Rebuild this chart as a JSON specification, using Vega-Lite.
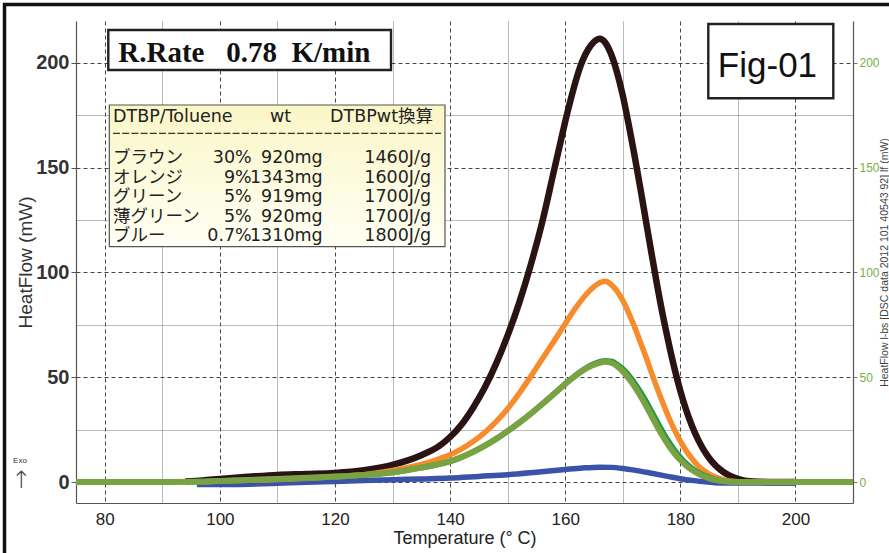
{
  "$schema": "https://vega.github.io/schema/vega-lite/v6.json",
  "width": 777,
  "height": 482,
  "autosize": {"type": "none"},
  "padding": {"left": 76, "top": 21, "right": 36, "bottom": 50},
  "background": "white",
  "config": {"view": {"stroke": null}, "font": "Liberation Sans"},
  "datasets": {
    "curves": [
      {"s":"bl","x":96,"y":-1.2},{"s":"bl","x":100,"y":-1.2},{"s":"bl","x":105,"y":-1.0},{"s":"bl","x":110,"y":-0.6},{"s":"bl","x":115,"y":-0.1},{"s":"bl","x":120,"y":0.3},{"s":"bl","x":125,"y":0.7},{"s":"bl","x":130,"y":1.1},{"s":"bl","x":135,"y":1.5},{"s":"bl","x":140,"y":1.9},{"s":"bl","x":145,"y":2.7},{"s":"bl","x":150,"y":3.5},{"s":"bl","x":155,"y":4.7},{"s":"bl","x":160,"y":6.0},{"s":"bl","x":163,"y":6.7},{"s":"bl","x":166,"y":7.1},{"s":"bl","x":168,"y":7.0},{"s":"bl","x":170,"y":6.5},{"s":"bl","x":172,"y":5.7},{"s":"bl","x":175,"y":4.2},{"s":"bl","x":178,"y":2.6},{"s":"bl","x":180,"y":1.6},{"s":"bl","x":182,"y":0.8},{"s":"bl","x":184,"y":0.2},{"s":"bl","x":186,"y":-0.3},{"s":"bl","x":188,"y":-0.5},{"s":"bl","x":200,"y":-0.5},
      {"s":"br","x":94,"y":0.3},{"s":"br","x":97,"y":0.8},{"s":"br","x":100,"y":1.5},{"s":"br","x":105,"y":2.5},{"s":"br","x":110,"y":3.4},{"s":"br","x":115,"y":3.8},{"s":"br","x":120,"y":4.3},{"s":"br","x":125,"y":5.6},{"s":"br","x":130,"y":8.2},{"s":"br","x":135,"y":12.8},{"s":"br","x":138,"y":17},{"s":"br","x":140,"y":21.5},{"s":"br","x":142,"y":27.5},{"s":"br","x":144,"y":35.5},{"s":"br","x":146,"y":45},{"s":"br","x":148,"y":56.5},{"s":"br","x":150,"y":70},{"s":"br","x":152,"y":85.5},{"s":"br","x":154,"y":103.5},{"s":"br","x":156,"y":124},{"s":"br","x":158,"y":148},{"s":"br","x":159,"y":160},{"s":"br","x":160,"y":172},{"s":"br","x":161,"y":183},{"s":"br","x":162,"y":193},{"s":"br","x":163,"y":201},{"s":"br","x":164,"y":206.5},{"s":"br","x":165,"y":210},{"s":"br","x":166,"y":211.5},{"s":"br","x":167,"y":209.5},{"s":"br","x":168,"y":204},{"s":"br","x":169,"y":195.5},{"s":"br","x":170,"y":184.5},{"s":"br","x":171,"y":171},{"s":"br","x":172,"y":156.5},{"s":"br","x":173,"y":141},{"s":"br","x":174,"y":125},{"s":"br","x":175,"y":109},{"s":"br","x":176,"y":93.5},{"s":"br","x":177,"y":79},{"s":"br","x":178,"y":66},{"s":"br","x":179,"y":54},{"s":"br","x":180,"y":43.5},{"s":"br","x":181,"y":34.5},{"s":"br","x":182,"y":27},{"s":"br","x":183,"y":20.7},{"s":"br","x":184,"y":15.6},{"s":"br","x":185,"y":11.5},{"s":"br","x":186,"y":8.3},{"s":"br","x":187,"y":5.8},{"s":"br","x":188,"y":3.9},{"s":"br","x":189,"y":2.5},{"s":"br","x":190,"y":1.5},{"s":"br","x":191,"y":0.8},{"s":"br","x":192,"y":0.4},{"s":"br","x":194,"y":0.1},{"s":"br","x":196,"y":0},{"s":"br","x":200,"y":0},
      {"s":"or","x":96,"y":0},{"s":"or","x":100,"y":0.5},{"s":"or","x":105,"y":0.8},{"s":"or","x":110,"y":1.2},{"s":"or","x":115,"y":1.8},{"s":"or","x":120,"y":2.5},{"s":"or","x":125,"y":3.5},{"s":"or","x":130,"y":5.5},{"s":"or","x":135,"y":8.4},{"s":"or","x":138,"y":11},{"s":"or","x":140,"y":13},{"s":"or","x":142,"y":15.8},{"s":"or","x":144,"y":19.3},{"s":"or","x":146,"y":23.6},{"s":"or","x":148,"y":28.8},{"s":"or","x":150,"y":35},{"s":"or","x":152,"y":42.3},{"s":"or","x":154,"y":50.3},{"s":"or","x":156,"y":58.7},{"s":"or","x":158,"y":67},{"s":"or","x":160,"y":75.5},{"s":"or","x":161,"y":79.8},{"s":"or","x":162,"y":83.8},{"s":"or","x":163,"y":87.4},{"s":"or","x":164,"y":90.6},{"s":"or","x":165,"y":93.2},{"s":"or","x":166,"y":95.1},{"s":"or","x":167,"y":95.8},{"s":"or","x":168,"y":94.2},{"s":"or","x":169,"y":91.1},{"s":"or","x":170,"y":86.6},{"s":"or","x":171,"y":80.9},{"s":"or","x":172,"y":74.4},{"s":"or","x":173,"y":67.2},{"s":"or","x":174,"y":59.9},{"s":"or","x":175,"y":52.1},{"s":"or","x":176,"y":44.6},{"s":"or","x":177,"y":37.5},{"s":"or","x":178,"y":30.8},{"s":"or","x":179,"y":24.8},{"s":"or","x":180,"y":19.5},{"s":"or","x":181,"y":15},{"s":"or","x":182,"y":11.2},{"s":"or","x":183,"y":8},{"s":"or","x":184,"y":5.6},{"s":"or","x":185,"y":3.8},{"s":"or","x":186,"y":2.5},{"s":"or","x":187,"y":1.5},{"s":"or","x":188,"y":0.8},{"s":"or","x":189,"y":0.35},{"s":"or","x":190,"y":0.1},{"s":"or","x":192,"y":0},{"s":"or","x":200,"y":0},
      {"s":"gr","x":95,"y":0.1},{"s":"gr","x":100,"y":0.5},{"s":"gr","x":105,"y":1},{"s":"gr","x":110,"y":1.5},{"s":"gr","x":115,"y":2},{"s":"gr","x":120,"y":2.6},{"s":"gr","x":125,"y":3.4},{"s":"gr","x":130,"y":4.6},{"s":"gr","x":135,"y":6.9},{"s":"gr","x":138,"y":8.5},{"s":"gr","x":140,"y":9.9},{"s":"gr","x":142,"y":11.9},{"s":"gr","x":144,"y":14.4},{"s":"gr","x":146,"y":17.3},{"s":"gr","x":148,"y":20.6},{"s":"gr","x":150,"y":24.3},{"s":"gr","x":152,"y":28.3},{"s":"gr","x":154,"y":32.6},{"s":"gr","x":156,"y":37.2},{"s":"gr","x":158,"y":42},{"s":"gr","x":160,"y":46.8},{"s":"gr","x":161,"y":49.1},{"s":"gr","x":162,"y":51.3},{"s":"gr","x":163,"y":53.3},{"s":"gr","x":164,"y":55},{"s":"gr","x":165,"y":56.4},{"s":"gr","x":166,"y":57.4},{"s":"gr","x":167,"y":57.9},{"s":"gr","x":168,"y":57.6},{"s":"gr","x":169,"y":56.2},{"s":"gr","x":170,"y":54},{"s":"gr","x":171,"y":51.1},{"s":"gr","x":172,"y":47.5},{"s":"gr","x":173,"y":43.3},{"s":"gr","x":174,"y":38.7},{"s":"gr","x":175,"y":33.7},{"s":"gr","x":176,"y":28.6},{"s":"gr","x":177,"y":23.7},{"s":"gr","x":178,"y":19.2},{"s":"gr","x":179,"y":15.2},{"s":"gr","x":180,"y":11.8},{"s":"gr","x":181,"y":8.9},{"s":"gr","x":182,"y":6.6},{"s":"gr","x":183,"y":4.7},{"s":"gr","x":184,"y":3.3},{"s":"gr","x":185,"y":2.2},{"s":"gr","x":186,"y":1.35},{"s":"gr","x":187,"y":0.75},{"s":"gr","x":188,"y":0.35},{"s":"gr","x":189,"y":0.12},{"s":"gr","x":190,"y":0},{"s":"gr","x":200,"y":0},
      {"s":"lg","x":75,"y":0},{"s":"lg","x":90,"y":0},{"s":"lg","x":95,"y":0.1},{"s":"lg","x":100,"y":0.5},{"s":"lg","x":105,"y":1},{"s":"lg","x":110,"y":1.5},{"s":"lg","x":115,"y":2},{"s":"lg","x":120,"y":2.6},{"s":"lg","x":125,"y":3.4},{"s":"lg","x":130,"y":4.6},{"s":"lg","x":135,"y":6.9},{"s":"lg","x":138,"y":8.5},{"s":"lg","x":140,"y":9.9},{"s":"lg","x":142,"y":11.9},{"s":"lg","x":144,"y":14.4},{"s":"lg","x":146,"y":17.3},{"s":"lg","x":148,"y":20.6},{"s":"lg","x":150,"y":24.3},{"s":"lg","x":152,"y":28.3},{"s":"lg","x":154,"y":32.6},{"s":"lg","x":156,"y":37.2},{"s":"lg","x":158,"y":42},{"s":"lg","x":160,"y":46.8},{"s":"lg","x":161,"y":49.1},{"s":"lg","x":162,"y":51.2},{"s":"lg","x":163,"y":53.1},{"s":"lg","x":164,"y":54.7},{"s":"lg","x":165,"y":56},{"s":"lg","x":166,"y":56.9},{"s":"lg","x":167,"y":57.4},{"s":"lg","x":168,"y":56.9},{"s":"lg","x":169,"y":55.3},{"s":"lg","x":170,"y":52.8},{"s":"lg","x":171,"y":49.6},{"s":"lg","x":172,"y":45.8},{"s":"lg","x":173,"y":41.4},{"s":"lg","x":174,"y":36.6},{"s":"lg","x":175,"y":31.5},{"s":"lg","x":176,"y":26.4},{"s":"lg","x":177,"y":21.6},{"s":"lg","x":178,"y":17.3},{"s":"lg","x":179,"y":13.6},{"s":"lg","x":180,"y":10.5},{"s":"lg","x":181,"y":7.9},{"s":"lg","x":182,"y":5.8},{"s":"lg","x":183,"y":4.1},{"s":"lg","x":184,"y":2.8},{"s":"lg","x":185,"y":1.8},{"s":"lg","x":186,"y":1.05},{"s":"lg","x":187,"y":0.55},{"s":"lg","x":188,"y":0.22},{"s":"lg","x":189,"y":0.06},{"s":"lg","x":190,"y":0},{"s":"lg","x":210,"y":0}
    ],
    "boxes": [
      {"g":"white","x":80.61,"x2":129.73,"y":215.71,"y2":196.62},
      {"g":"white","x":184.86,"x2":206.58,"y":218.57,"y2":183.11},
      {"g":"legend","x":80.79,"x2":139.11,"y":179.92,"y2":112.3},
      {"g":"frame","x":62.58,"x2":217.5,"y":227.87,"y2":-36},
      {"g":"dash","x":81.43,"x2":138.42,"y":166.41,"y2":166.41}
    ],
    "labels": [
      {"g":"rate","x":82.35,"y":200.58,"t":"R.Rate\u00a0\u00a0\u00a00.78\u00a0\u00a0K/min"},
      {"g":"fig","x":195.14,"y":193.42,"t":"Fig-01"},
      {"g":"legL","x":81.43,"y":174.33,"t":"DTBP/Toluene"},
      {"g":"legL","x":108.71,"y":174.33,"t":"wt"},
      {"g":"legR","x":137.03,"y":174.33,"t":"DTBPwt換算"},
      {"g":"legL","x":81.43,"y":154.48,"t":"ブラウン"},
      {"g":"legL","x":81.43,"y":145.23,"t":"オレンジ"},
      {"g":"legL","x":81.43,"y":135.97,"t":"グリーン"},
      {"g":"legL","x":81.43,"y":126.71,"t":"薄グリーン"},
      {"g":"legL","x":81.43,"y":117.46,"t":"ブルー"},
      {"g":"legR","x":105.53,"y":154.48,"t":"30%"},
      {"g":"legR","x":105.53,"y":145.23,"t":"9%"},
      {"g":"legR","x":105.53,"y":135.97,"t":"5%"},
      {"g":"legR","x":105.53,"y":126.71,"t":"5%"},
      {"g":"legR","x":105.53,"y":117.46,"t":"0.7%"},
      {"g":"legR","x":117.86,"y":154.48,"t":"920mg"},
      {"g":"legR","x":117.86,"y":145.23,"t":"1343mg"},
      {"g":"legR","x":117.86,"y":135.97,"t":"919mg"},
      {"g":"legR","x":117.86,"y":126.71,"t":"920mg"},
      {"g":"legR","x":117.86,"y":117.46,"t":"1310mg"},
      {"g":"legR","x":136.68,"y":154.48,"t":"1460J/g"},
      {"g":"legR","x":136.68,"y":145.23,"t":"1600J/g"},
      {"g":"legR","x":136.68,"y":135.97,"t":"1700J/g"},
      {"g":"legR","x":136.68,"y":126.71,"t":"1700J/g"},
      {"g":"legR","x":136.68,"y":117.46,"t":"1800J/g"},
      {"g":"exo","x":65.27,"y":10.2,"t":"Exo"},
      {"g":"arrow","x":65.45,"y":0.3,"t":"↑"}
    ]
  },
  "encoding": {
    "x": {
      "field": "x", "type": "quantitative",
      "scale": {"domain": [75, 210], "nice": false, "zero": false},
      "axis": {
        "title": "Temperature (° C)",
        "values": [80, 90, 100, 110, 120, 130, 140, 150, 160, 170, 180, 190, 200],
        "labelExpr": "datum.value % 20 === 0 ? datum.label : ''",
        "ticks": false,
        "labelPadding": 8,
        "labelFontSize": 17,
        "labelColor": "#222",
        "labelFlush": false,
        "labelOverlap": false,
        "titleFontSize": 18,
        "titleFontWeight": "normal",
        "titleColor": "#222",
        "titlePadding": 2,
        "domainColor": "#555",
        "domainWidth": 1.2,
        "grid": true,
        "gridColor": {"condition": {"test": "datum.value % 20 === 0", "value": "#444"}, "value": "#777"},
        "gridDash": {"condition": {"test": "datum.value % 20 === 0", "value": [4, 3]}, "value": [1, 1]},
        "gridWidth": 1,
        "gridOpacity": 1
      }
    }
  },
  "layer": [
    {
      "data": {"name": "boxes"},
      "transform": [{"filter": "datum.g === 'white'"}],
      "mark": {"type": "rect", "fill": "white", "stroke": "#222", "strokeWidth": 2.4},
      "encoding": {
        "x2": {"field": "x2"},
        "y": {"field": "y", "type": "quantitative", "scale": {"domain": [-10, 220], "nice": false, "zero": false}, "axis": null},
        "y2": {"field": "y2"}
      }
    },
    {
      "data": {"name": "boxes"},
      "transform": [{"filter": "datum.g === 'legend'"}],
      "mark": {"type": "rect", "stroke": "#555", "strokeWidth": 1.2,
        "fill": {"gradient": "linear", "x1": 0, "y1": 0, "x2": 0, "y2": 1, "stops": [{"offset": 0, "color": "#faf6c6"}, {"offset": 1, "color": "#fffff4"}]}},
      "encoding": {
        "x2": {"field": "x2"},
        "y": {"field": "y", "type": "quantitative", "scale": {"domain": [-10, 220], "nice": false, "zero": false}, "axis": null},
        "y2": {"field": "y2"}
      }
    },
    {
      "data": {"name": "boxes"},
      "transform": [{"filter": "datum.g === 'frame'"}],
      "mark": {"type": "rect", "filled": false, "stroke": "#111", "strokeWidth": 3.5},
      "encoding": {
        "x2": {"field": "x2"},
        "y": {"field": "y", "type": "quantitative", "scale": {"domain": [-10, 220], "nice": false, "zero": false}, "axis": null},
        "y2": {"field": "y2"}
      }
    },
    {
      "data": {"name": "boxes"},
      "transform": [{"filter": "datum.g === 'dash'"}],
      "mark": {"type": "rule", "stroke": "#333", "strokeWidth": 1.3, "strokeDash": [7, 2.2]},
      "encoding": {
        "x2": {"field": "x2"},
        "y": {"field": "y", "type": "quantitative", "scale": {"domain": [-10, 220], "nice": false, "zero": false}, "axis": null}
      }
    },
    {
      "data": {"name": "curves"},
      "transform": [{"filter": "datum.s === 'bl'"}],
      "mark": {"type": "line", "stroke": "#3a52a8", "strokeWidth": 5.5, "interpolate": "monotone"},
      "encoding": {
        "y": {"field": "y", "type": "quantitative", "scale": {"domain": [-10, 220], "nice": false, "zero": false}, "axis": null}
      }
    },
    {
      "data": {"name": "curves"},
      "transform": [{"filter": "datum.s === 'br'"}],
      "mark": {"type": "line", "stroke": "#2a1313", "strokeWidth": 6.5, "interpolate": "monotone"},
      "encoding": {
        "y": {
          "field": "y", "type": "quantitative",
          "scale": {"domain": [-10, 220], "nice": false, "zero": false},
          "axis": {
            "orient": "left",
            "title": "HeatFlow (mW)",
            "values": [0, 25, 50, 75, 100, 125, 150, 175, 200],
            "labelExpr": "datum.value % 50 === 0 ? datum.label : ''",
            "tickSize": 5,
            "tickColor": "#555",
            "tickOpacity": {"condition": {"test": "datum.value % 50 === 0", "value": 1}, "value": 0},
            "labelFontSize": 20,
            "labelFontWeight": "bold",
            "labelColor": "#333",
            "labelPadding": 2,
            "titleFontSize": 19,
            "titleFontWeight": "normal",
            "titleColor": "#333",
            "titlePadding": 0,
            "domainColor": "#555",
            "domainWidth": 1.2,
            "grid": true,
            "gridColor": {"condition": {"test": "datum.value % 50 === 0", "value": "#444"}, "value": "#777"},
            "gridDash": {"condition": {"test": "datum.value % 50 === 0", "value": [4, 3]}, "value": [1, 1]},
            "gridWidth": 1,
            "gridOpacity": 1
          }
        }
      }
    },
    {
      "data": {"name": "curves"},
      "transform": [{"filter": "datum.s === 'or'"}],
      "mark": {"type": "line", "stroke": "#f78c2c", "strokeWidth": 5.5, "interpolate": "monotone"},
      "encoding": {
        "y": {"field": "y", "type": "quantitative", "scale": {"domain": [-10, 220], "nice": false, "zero": false}, "axis": null}
      }
    },
    {
      "data": {"name": "curves"},
      "transform": [{"filter": "datum.s === 'gr'"}],
      "mark": {"type": "line", "stroke": "#1f9a48", "strokeWidth": 5.6, "interpolate": "monotone"},
      "encoding": {
        "y": {"field": "y", "type": "quantitative", "scale": {"domain": [-10, 220], "nice": false, "zero": false}, "axis": null}
      }
    },
    {
      "data": {"name": "curves"},
      "transform": [{"filter": "datum.s === 'lg'"}],
      "mark": {"type": "line", "stroke": "#79a242", "strokeWidth": 6, "interpolate": "monotone"},
      "encoding": {
        "y": {
          "field": "y", "type": "quantitative",
          "scale": {"domain": [-10, 220], "nice": false, "zero": false},
          "axis": {
            "orient": "right",
            "title": "HeatFlow l-bs [DSC data 2012 101 40543 92] lf (mW)",
            "titleAngle": 270,
            "titleBaseline": "top",
            "titleFontSize": 10.5,
            "titleFontWeight": "normal",
            "titleColor": "#444",
            "titlePadding": 0,
            "values": [0, 50, 100, 150, 200],
            "tickSize": 4,
            "tickColor": "#777",
            "labelFontSize": 12,
            "labelColor": "#77b046",
            "labelPadding": 2,
            "domainColor": "#555",
            "domainWidth": 1.2,
            "grid": false
          }
        }
      }
    },
    {
      "data": {"name": "labels"},
      "transform": [{"filter": "datum.g === 'rate'"}],
      "mark": {"type": "text", "font": "Liberation Serif", "fontWeight": "bold", "fontSize": 29, "align": "left", "baseline": "alphabetic", "color": "#111"},
      "encoding": {
        "y": {"field": "y", "type": "quantitative", "scale": {"domain": [-10, 220], "nice": false, "zero": false}, "axis": null},
        "text": {"field": "t"}
      }
    },
    {
      "data": {"name": "labels"},
      "transform": [{"filter": "datum.g === 'fig'"}],
      "mark": {"type": "text", "font": "Liberation Sans", "fontSize": 35, "align": "center", "baseline": "alphabetic", "color": "#111"},
      "encoding": {
        "y": {"field": "y", "type": "quantitative", "scale": {"domain": [-10, 220], "nice": false, "zero": false}, "axis": null},
        "text": {"field": "t"}
      }
    },
    {
      "data": {"name": "labels"},
      "transform": [{"filter": "datum.g === 'legL'"}],
      "mark": {"type": "text", "font": "DejaVu Sans, Noto Sans CJK JP", "fontSize": 17.5, "align": "left", "baseline": "middle", "color": "#222"},
      "encoding": {
        "y": {"field": "y", "type": "quantitative", "scale": {"domain": [-10, 220], "nice": false, "zero": false}, "axis": null},
        "text": {"field": "t"}
      }
    },
    {
      "data": {"name": "labels"},
      "transform": [{"filter": "datum.g === 'legR'"}],
      "mark": {"type": "text", "font": "DejaVu Sans, Noto Sans CJK JP", "fontSize": 17.5, "align": "right", "baseline": "middle", "color": "#222"},
      "encoding": {
        "y": {"field": "y", "type": "quantitative", "scale": {"domain": [-10, 220], "nice": false, "zero": false}, "axis": null},
        "text": {"field": "t"}
      }
    },
    {
      "data": {"name": "labels"},
      "transform": [{"filter": "datum.g === 'exo'"}],
      "mark": {"type": "text", "font": "Liberation Sans", "fontSize": 8, "align": "center", "baseline": "middle", "color": "#333"},
      "encoding": {
        "y": {"field": "y", "type": "quantitative", "scale": {"domain": [-10, 220], "nice": false, "zero": false}, "axis": null},
        "text": {"field": "t"}
      }
    },
    {
      "data": {"name": "labels"},
      "transform": [{"filter": "datum.g === 'arrow'"}],
      "mark": {"type": "text", "font": "DejaVu Sans", "fontWeight": 200, "fontSize": 24, "align": "center", "baseline": "middle", "color": "#444"},
      "encoding": {
        "y": {"field": "y", "type": "quantitative", "scale": {"domain": [-10, 220], "nice": false, "zero": false}, "axis": null},
        "text": {"field": "t"}
      }
    }
  ],
  "resolve": {"axis": {"y": "independent"}}
}
